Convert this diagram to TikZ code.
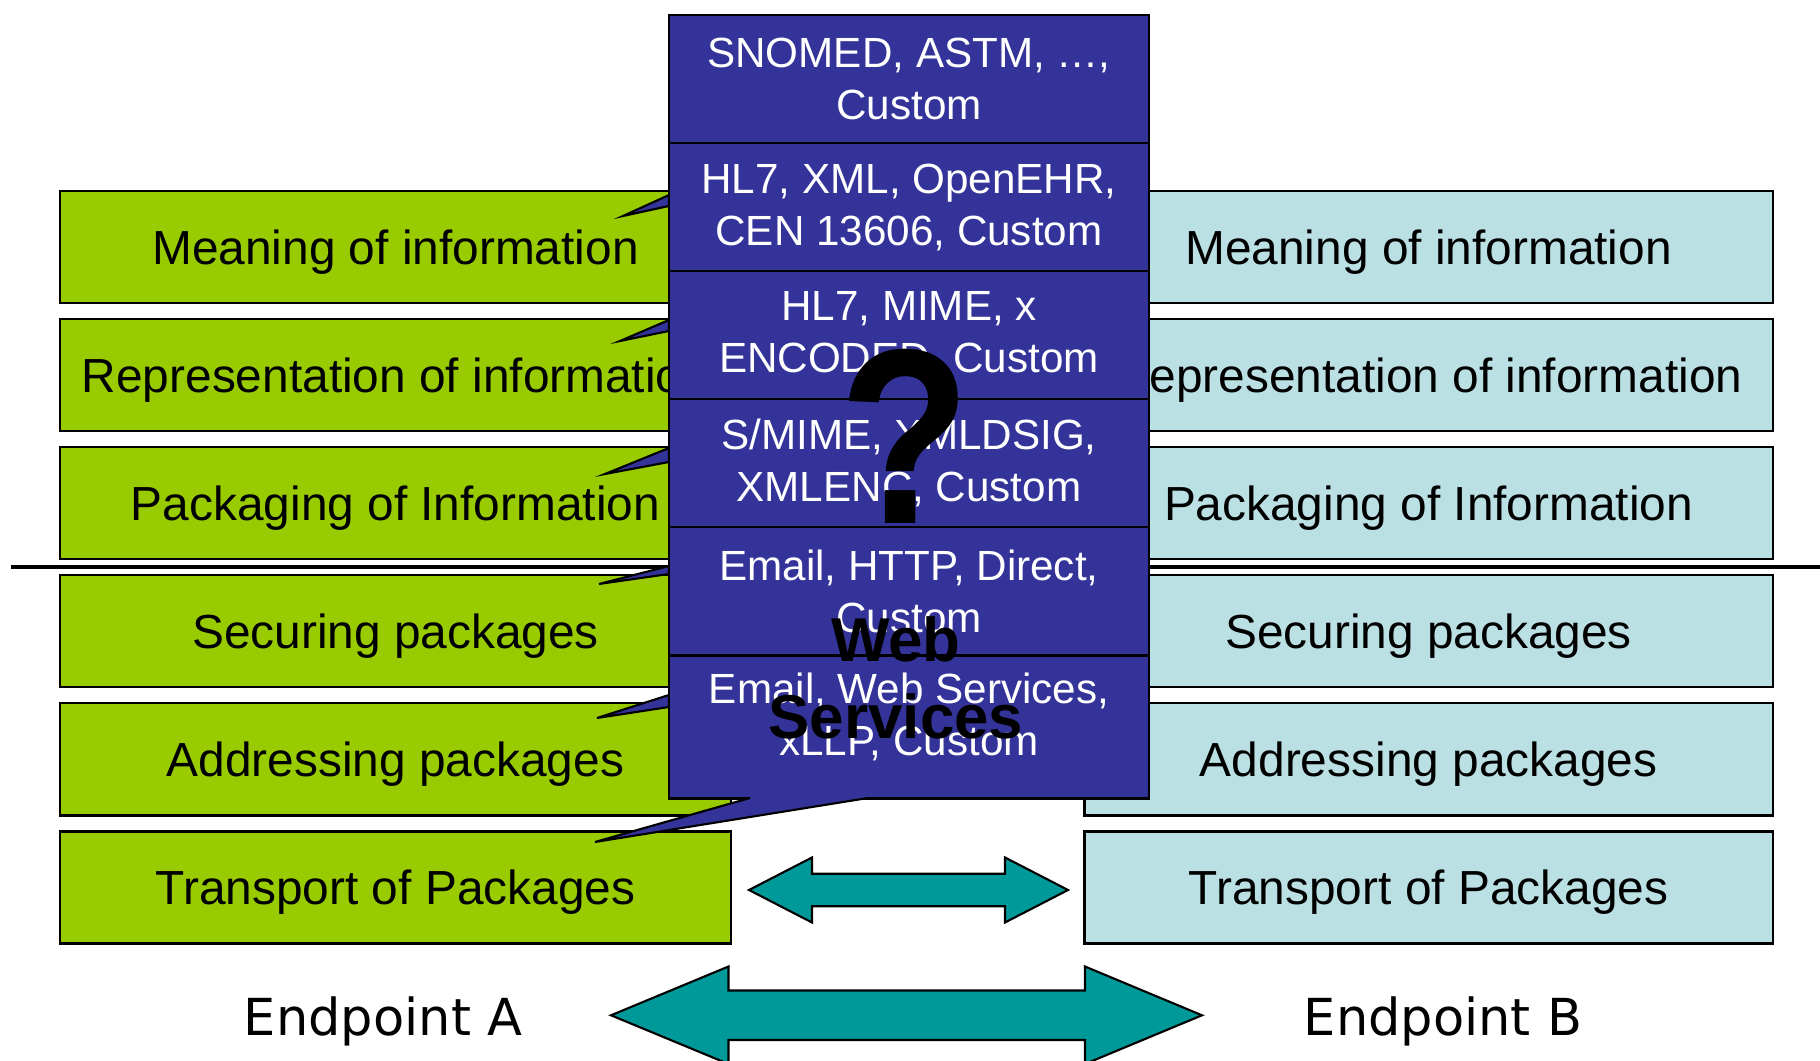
\documentclass[tikz,border=0pt]{standalone}
\usepackage{fontspec}
\setmainfont{Liberation Sans}
\newfontfamily\endpointfont{DejaVu Sans}
\usetikzlibrary{positioning}
\definecolor{layergreen}{HTML}{99CC00}
\definecolor{layercyan}{HTML}{BBE0E3}
\definecolor{stdblue}{HTML}{333399}
\definecolor{linkteal}{HTML}{009999}
\tikzset
{
    sideA/.style = {draw=black, fill=layergreen, line width=0.7pt, minimum width=6.71cm, minimum height=1.12cm, inner sep=0pt, outer sep=0pt, text height=0.342cm, text depth=0cm, font=\fontsize{13.6}{16}\selectfont},
    sideB/.style = {sideA, fill=layercyan, minimum width=6.88cm},
    stdcell/.style = {draw=black, fill=stdblue, text=white, line width=0.7pt, minimum width=4.8cm, minimum height=1.28cm, inner sep=0pt, outer sep=0pt, align=center, font=\fontsize{12}{14.8}\selectfont},
    calltail/.style = {draw=black, fill=stdblue, line width=0.6pt},
    linkarrow/.style = {draw=black, fill=linkteal, line width=0.6pt},
    endlabel/.style = {anchor=base, font=\endpointfont\fontsize{14.5}{17}\selectfont}
}

\begin{document}
\begin{tikzpicture}[x=0.01cm, y=-0.01cm]
    \useasboundingbox (0,0) rectangle (1820,1061);
    % separator between the information layers and the package layers
    \coordinate (sepL) at (11,567);
    \coordinate (sepR) at (1820,567);
    \draw [line width=0.9pt] (sepL) -- (sepR);

    % endpoint A
    \node [sideA] (meanA) at (395.5,247) {Meaning of information};
    \node [sideA, below=0.16cm of meanA] (reprA) {Representation of information};
    \node [sideA, below=0.16cm of reprA] (packA) {Packaging of Information};
    \node [sideA, below=0.16cm of packA] (secA) {Securing packages};
    \node [sideA, below=0.16cm of secA] (addrA) {Addressing packages};
    \node [sideA, below=0.16cm of addrA] (transA) {Transport of Packages};

    % endpoint B
    \node [sideB, right=3.53cm of meanA] (meanB) {Meaning of information};
    \node [sideB, right=3.53cm of reprA] (reprB) {Representation of information};
    \node [sideB, right=3.53cm of packA] (packB) {Packaging of Information};
    \node [sideB, right=3.53cm of secA] (secB) {Securing packages};
    \node [sideB, right=3.53cm of addrA] (addrB) {Addressing packages};
    \node [sideB, right=3.53cm of transA] (transB) {Transport of Packages};

    % callout tails
    \draw [calltail] (669,195) -- (623,216) -- (669,206) -- cycle;
    \draw [calltail] (669,320) -- (620,341) -- (669,331) -- cycle;
    \draw [calltail] (669,448) -- (605,474) -- (669,462) -- cycle;
    \draw [calltail] (669,566) -- (599,584) -- (669,574) -- cycle;
    \draw [calltail] (669,695) -- (597,718) -- (669,707) -- cycle;

    % standards column
    \node [stdcell] (term) at (909,79) {SNOMED, ASTM, …,\\Custom};
    \node [stdcell, below=0cm of term] (model) {HL7, XML, OpenEHR,\\CEN 13606, Custom};
    \node [stdcell, below=0cm of model] (encode) {HL7, MIME, x\\ENCODED, Custom};
    \node [stdcell, below=0cm of encode] (secure) {S/MIME, XMLDSIG,\\XMLENC, Custom};
    \node [stdcell, below=0cm of secure] (address) {Email, HTTP, Direct,\\Custom};
    \node [stdcell, below=0cm of address, minimum height=1.43cm, text depth=0.26cm] (carry) {Email, Web Services,\\xLLP, Custom};

    % tail of the bottom cell
    \fill [stdblue] (750,796) -- (750,798) -- (595,842) -- (868,798) -- (868,796) -- cycle;
    \draw [line width=0.6pt] (750,798) -- (595,842) -- (868,798);

    \node [font=\bfseries\fontsize{71}{71}\selectfont, inner sep=0pt, xscale=0.86] (query) at (905,436) {?};
    \node [font=\bfseries\fontsize{17.6}{21.9}\selectfont, align=center, inner sep=0pt] (websvc) at (896,678) {Web\\Services};

    % links between the endpoints
    \draw [linkarrow] (749,890) -- (812,857.5) -- (812,873.7) -- (1005,873.7) -- (1005,857.5) -- (1068,890)
        -- (1005,922.5) -- (1005,906.3) -- (812,906.3) -- (812,922.5) -- cycle;
    \draw [linkarrow] (611,1015.3) -- (728.5,966.5) -- (728.5,990.5) -- (1085,990.5) -- (1085,966.5) -- (1202,1015.3)
        -- (1085,1064) -- (1085,1040) -- (728.5,1040) -- (728.5,1064) -- cycle;

    \node [endlabel] (endA) at (383,1035) {Endpoint A};
    \node [endlabel] (endB) at (1443,1035) {Endpoint B};
\end{tikzpicture}
\end{document}
